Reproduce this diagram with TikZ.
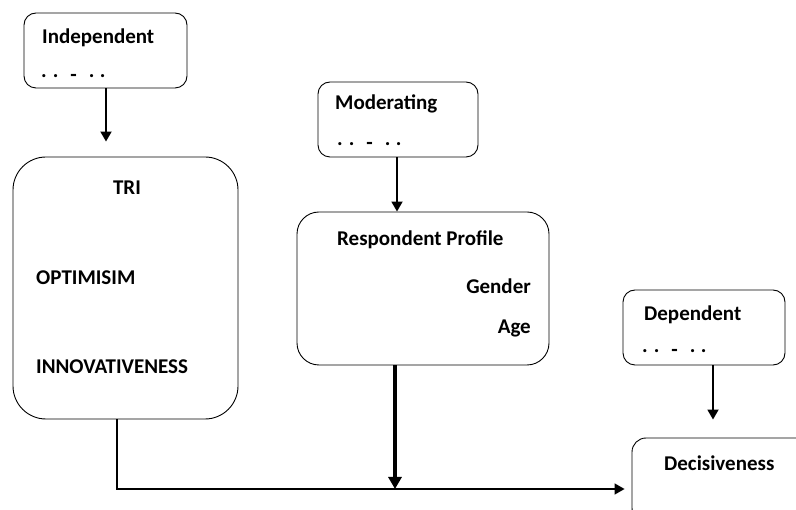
\documentclass[tikz,border=0pt]{standalone}
\usepackage{fontspec}
\setmainfont{Carlito}
\usetikzlibrary{arrows.meta}
\newcommand{\dotrow}{.\hspace{6pt}.\hspace{12pt}\raisebox{-4pt}{-}\hspace{12pt}.\hspace{5.5pt}.}
\tikzset{
  box/.style={draw=black, line width=0.9pt, rounded corners=12pt, inner sep=0pt},
  lbl/.style={font=\fontsize{21}{24}\selectfont\bfseries, inner sep=0pt},
  arr/.style={line width=1.8pt, -{Triangle[width=11pt,length=10pt]}},
  thickarr/.style={line width=3.2pt, -{Triangle[width=13pt,length=12pt]}}
}
\begin{document}
\begin{tikzpicture}[x=1pt,y=-1pt]
\useasboundingbox (0,0) rectangle (796,510);
\clip (0,0) rectangle (796,510);
% boxes
\node[box, minimum width=163pt, minimum height=75pt] (indep) at (105.5,50.5) {};
\node[box, rounded corners=33pt, minimum width=225pt, minimum height=262pt] (tri) at (125.5,288) {};
\node[box, minimum width=160pt, minimum height=75pt] (mod) at (398,119.5) {};
\node[box, rounded corners=22pt, minimum width=252pt, minimum height=153pt] (resp) at (423,288.5) {};
\node[box, minimum width=162pt, minimum height=75pt] (dep) at (704,327.5) {};
\node[box, rounded corners=14pt, minimum width=180pt, minimum height=84pt] (dec) at (722,480) {};
% texts
\node[lbl, anchor=west] (tIndep) at (42,38) {Independent};
\node[lbl, anchor=base west] (dIndep) at (41,78) {\dotrow};
\node[lbl, anchor=west] (tMod) at (335,104) {Moderating};
\node[lbl, anchor=base west] (dMod) at (337,146) {\dotrow};
\node[lbl, anchor=west] (tDep) at (644,315) {Dependent};
\node[lbl, anchor=base west] (dDep) at (642,353) {\dotrow};
\node[lbl] (tTri) at (127,188) {TRI};
\node[lbl, anchor=west] (tOpt) at (36,278) {OPTIMISIM};
\node[lbl, anchor=west] (tInn) at (36,367) {INNOVATIVENESS};
\node[lbl, anchor=west] (tResp) at (337,240) {Respondent Profile};
\node[lbl, anchor=east] (tGen) at (531,286) {Gender};
\node[lbl, anchor=east] (tAge) at (531,328) {Age};
\node[lbl, anchor=west] (tDec) at (664,463) {Decisiveness};
% connectors
\draw[arr, shorten >=15pt] (indep.south -| 106,0) -- (tri.north -| 106,0);
\draw[arr] (mod.south -| 397,0) -- (resp.north -| 397,0);
\draw[arr, shorten >=18pt] (dep.south -| 713,0) -- (dec.north -| 713,0);
\coordinate (mid) at (395,489);
\draw[thickarr] (resp.south -| 395,0) -- (mid);
\draw[arr, line width=1.5pt, shorten >=7pt] (tri.south -| 117,0) |- (dec.west |- 0,489);
\end{tikzpicture}
\end{document}
